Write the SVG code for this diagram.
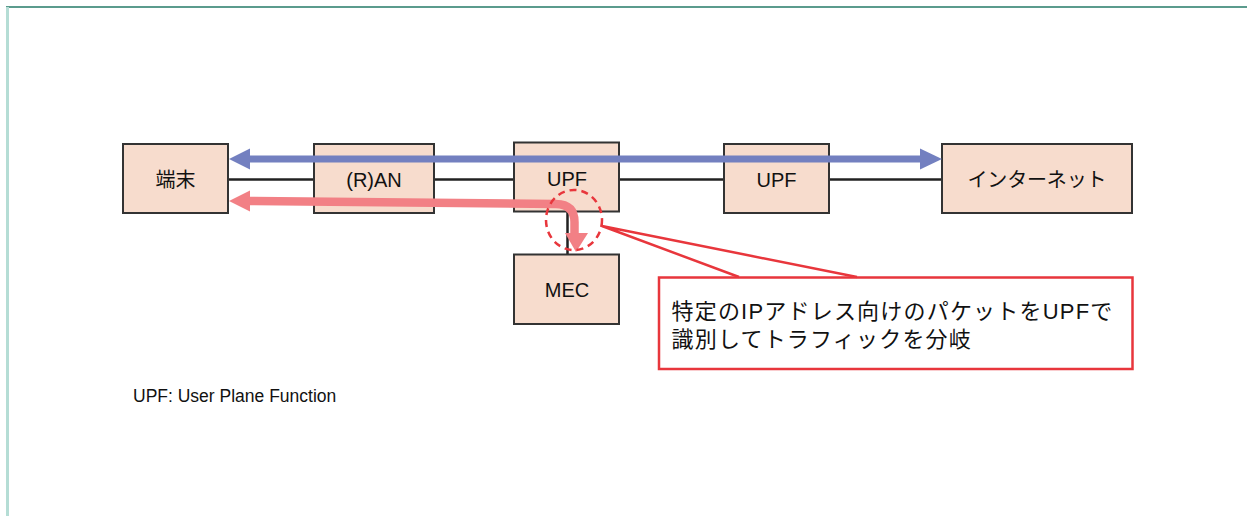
<svg xmlns="http://www.w3.org/2000/svg" width="1247" height="516" viewBox="0 0 1247 516">
<style>
.box{fill:#f7dccd;stroke:#333;stroke-width:2}
.lbl{font-family:"Liberation Sans","Noto Sans CJK JP",sans-serif;font-size:20px;fill:#111;text-anchor:middle}
.link{stroke:#222;stroke-width:2.5;fill:none}
.red{stroke:#e8363c;fill:none}
.note{font-family:"Liberation Sans","Noto Sans CJK JP",sans-serif;font-size:22px;fill:#111;letter-spacing:1.2px}
</style>
<rect width="1247" height="516" fill="#fff"/>
<line x1="6" y1="7" x2="1247" y2="7" stroke="#5b9b8d" stroke-width="2"/>
<line x1="7.5" y1="7" x2="7.5" y2="516" stroke="#b5ddd5" stroke-width="3"/>
<g id="connectors">
<line class="link" x1="228" y1="179.5" x2="314" y2="179.5"/>
<line class="link" x1="434" y1="179.5" x2="514" y2="179.5"/>
<line class="link" x1="619" y1="179.5" x2="724" y2="179.5"/>
<line class="link" x1="829" y1="179.5" x2="942" y2="179.5"/>
<line class="link" x1="567.5" y1="212" x2="567.5" y2="254"/>
</g>
<g id="n-terminal"><rect class="box" x="123" y="144" width="105" height="69"/><text class="lbl" x="175.5" y="186.5">端末</text></g>
<g id="n-ran"><rect class="box" x="314" y="144" width="120" height="69"/><text class="lbl" x="374" y="186.5">(R)AN</text></g>
<g id="n-upf1"><rect class="box" x="514" y="142.5" width="105" height="69"/><text class="lbl" x="567" y="185.5">UPF</text></g>
<g id="n-mec"><rect class="box" x="514" y="254.5" width="105" height="69.5"/><text class="lbl" x="567" y="297">MEC</text></g>
<g id="n-upf2"><rect class="box" x="724" y="144" width="105" height="69"/><text class="lbl" x="776.5" y="186.5">UPF</text></g>
<g id="n-internet"><rect class="box" x="942" y="144" width="190" height="69"/><text class="lbl" x="1037" y="186.5" textLength="139" lengthAdjust="spacing">インターネット</text></g>
<g id="flows">
<line x1="248" y1="159" x2="922" y2="159" stroke="#7380c0" stroke-width="7"/>
<polygon points="229,159 250,148.5 250,169.5" fill="#7380c0"/>
<polygon points="942,159 920,148.5 920,169.5" fill="#7380c0"/>
<path d="M248 201 L556 204 Q574.5 204.5 574.5 222 L574.5 235" stroke="#f28085" stroke-width="8.5" fill="none"/>
<polygon points="229,201 250,190.5 250,211.5" fill="#f28085"/>
<polygon points="576,252 565,233 588,233" fill="#f28085"/>
</g>
<g id="callout">
<ellipse class="red" cx="574" cy="220" rx="28" ry="30" stroke-width="2.5" stroke-dasharray="7,5"/>
<polyline class="red" points="739,277 602,226 857,277" stroke-width="2.5" stroke-linejoin="miter"/>
<rect class="red" x="659" y="277.5" width="473.5" height="91.5" stroke-width="2.5"/>
<text class="note" x="671.5" y="318.5">特定のIPアドレス向けのパケットをUPFで</text>
<text class="note" x="671.5" y="347">識別してトラフィックを分岐</text>
</g>
<text x="133" y="402" font-family="'Liberation Sans',sans-serif" font-size="17.5" fill="#111">UPF: User Plane Function</text>
</svg>
